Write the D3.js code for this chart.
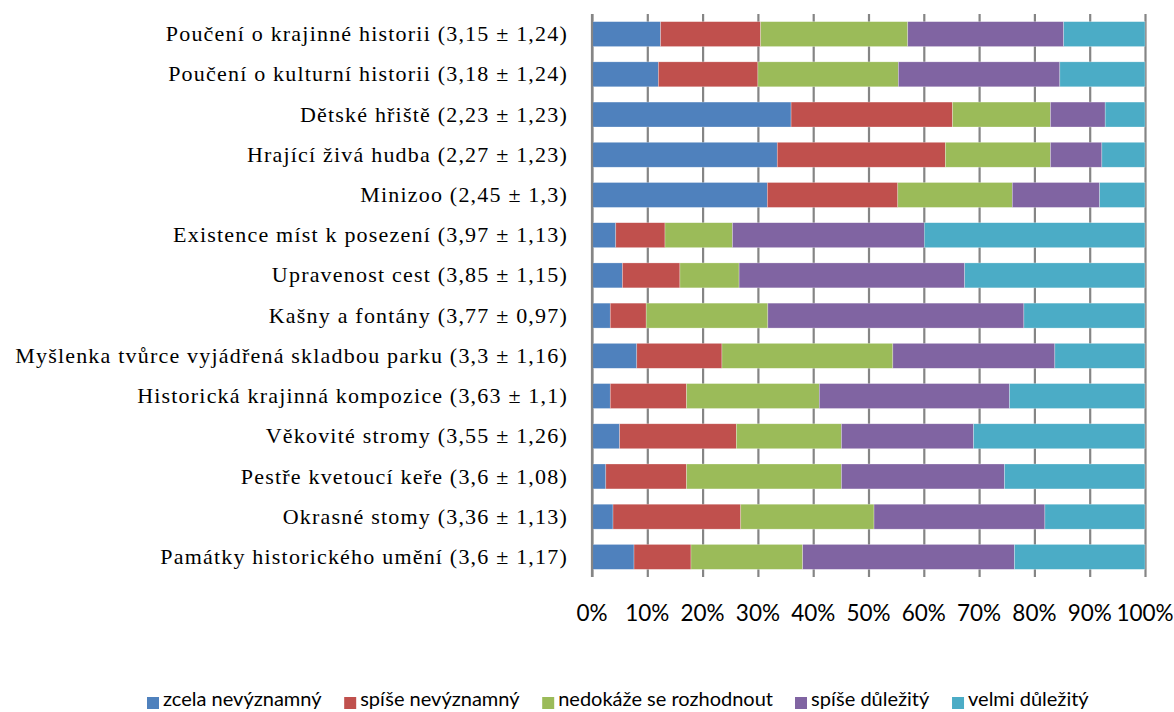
<!DOCTYPE html>
<html>
<head>
<meta charset="utf-8">
<script src="https://cdn.jsdelivr.net/npm/d3@7"></script>
<style>
  html, body { margin: 0; padding: 0; background: #fff; }
  svg { display: block; }
</style>
</head>
<body>
<svg id="chart" width="1174" height="712"></svg>
<script>
// categories, top to bottom
const categories = [
  'Poučení o krajinné historii (3,15 ± 1,24)',
  'Poučení o kulturní historii (3,18 ± 1,24)',
  'Dětské hřiště (2,23 ± 1,23)',
  'Hrající živá hudba (2,27 ± 1,23)',
  'Minizoo (2,45 ± 1,3)',
  'Existence míst k posezení (3,97 ± 1,13)',
  'Upravenost cest (3,85 ± 1,15)',
  'Kašny a fontány (3,77 ± 0,97)',
  'Myšlenka tvůrce vyjádřená skladbou parku (3,3 ± 1,16)',
  'Historická krajinná kompozice (3,63 ± 1,1)',
  'Věkovité stromy (3,55 ± 1,26)',
  'Pestře kvetoucí keře (3,6 ± 1,08)',
  'Okrasné stomy (3,36 ± 1,13)',
  'Památky historického umění (3,6 ± 1,17)'
];

const seriesNames = ['zcela nevýznamný', 'spíše nevýznamný', 'nedokáže se rozhodnout', 'spíše důležitý', 'velmi důležitý'];
const seriesColors = ['#4F81BD', '#C0504D', '#9BBB59', '#8064A2', '#4BACC6'];

// shares in %, same order as categories
const zcelaNevyznamny = [12.4, 12.0, 36.0, 33.5, 31.7, 4.3, 5.5, 3.3, 8.1, 3.3, 5.0, 2.5, 3.8, 7.6];
const spiseNevyznamny = [18.1, 18.0, 29.2, 30.4, 23.6, 8.9, 10.4, 6.5, 15.4, 13.8, 21.1, 14.6, 23.1, 10.3];
const nedokaze        = [26.6, 25.4, 17.7, 19.0, 20.7, 12.2, 10.7, 22.0, 30.9, 24.0, 19.0, 28.0, 24.1, 20.2];
const spiseDulezity   = [28.2, 29.2, 9.9, 9.3, 15.8, 34.7, 40.8, 46.3, 29.3, 34.4, 23.9, 29.5, 30.9, 38.3];
const velmiDulezity   = [14.7, 15.4, 7.2, 7.8, 8.2, 39.9, 32.6, 21.9, 16.3, 24.5, 31.0, 25.4, 18.1, 23.6];

const xTicks = [0, 10, 20, 30, 40, 50, 60, 70, 80, 90, 100];

const seriesValues = [zcelaNevyznamny, spiseNevyznamny, nedokaze, spiseDulezity, velmiDulezity];
const rows = categories.map((name, i) => {
  const row = { name };
  const total = d3.sum(seriesValues, s => s[i]);
  seriesNames.forEach((s, j) => { row[s] = seriesValues[j][i] / total * 100; });
  return row;
});

const svg = d3.select('#chart');
const plotLeft = 592;
const plotRight = 1145;
const plotTop = 14;
const plotBottom = 577;

const x = d3.scaleLinear().domain([0, 100]).range([plotLeft, plotRight]);
const y = d3.scaleBand().domain(categories).range([plotTop, plotBottom]).paddingInner(0.38).paddingOuter(0.19);
const color = d3.scaleOrdinal().domain(seriesNames).range(seriesColors);

// vertical gridlines
svg.append('g')
  .attr('transform', `translate(0,${plotBottom})`)
  .call(d3.axisBottom(x).tickValues(xTicks).tickSize(-(plotBottom - plotTop)).tickFormat(''))
  .call(g => g.select('.domain').remove())
  .call(g => g.selectAll('.tick line').attr('stroke', '#858585').attr('stroke-width', 2.2));

// stacked bars
const stacked = d3.stack().keys(seriesNames)(rows);
svg.append('g')
  .selectAll('g')
  .data(stacked)
  .join('g')
  .attr('fill', d => color(d.key))
  .selectAll('rect')
  .data(d => d)
  .join('rect')
  .attr('x', d => x(d[0]))
  .attr('y', d => y(d.data.name))
  .attr('width', d => x(d[1]) - x(d[0]))
  .attr('height', y.bandwidth())
  .attr('stroke', 'rgba(255,255,255,0.45)')
  .attr('stroke-width', 0.6);

// left axis line and category labels
svg.append('g')
  .attr('transform', `translate(${plotLeft},0)`)
  .call(d3.axisLeft(y).tickSize(0).tickPadding(24))
  .call(g => g.select('.domain').attr('stroke', '#858585').attr('stroke-width', 2.2).attr('d', `M0,${plotTop}V${plotBottom}`))
  .call(g => g.selectAll('text')
    .attr('font-family', '"Liberation Serif", "Times New Roman", serif')
    .attr('font-size', 22)
    .attr('letter-spacing', 1.2)
    .attr('fill', '#000'));

// percent tick labels
svg.append('g')
  .attr('transform', 'translate(0,621)')
  .selectAll('text')
  .data(xTicks)
  .join('text')
  .attr('x', d => x(d))
  .attr('text-anchor', 'middle')
  .attr('font-family', 'Lato, "Open Sans", sans-serif')
  .attr('font-size', 22.5)
  .attr('fill', '#000')
  .text(d => `${d}%`);

// legend (kept just inside the bottom edge)
const legend = svg.append('g').attr('font-family', 'Lato, "Open Sans", sans-serif').attr('font-size', 20);
const items = legend.selectAll('g').data(seriesNames).join('g');
items.append('rect').attr('width', 12).attr('height', 12).attr('y', -9).attr('fill', d => color(d));
items.append('text').attr('x', 16).attr('fill', '#000').text(d => d);
let cursor = 0;
items.each(function () {
  const w = this.getBBox().width;
  d3.select(this).attr('transform', `translate(${cursor},706)`);
  cursor += w + 22;
});
const legendWidth = cursor - 22;
legend.attr('transform', `translate(${Math.round(618 - legendWidth / 2)},0)`);
</script>
</body>
</html>
